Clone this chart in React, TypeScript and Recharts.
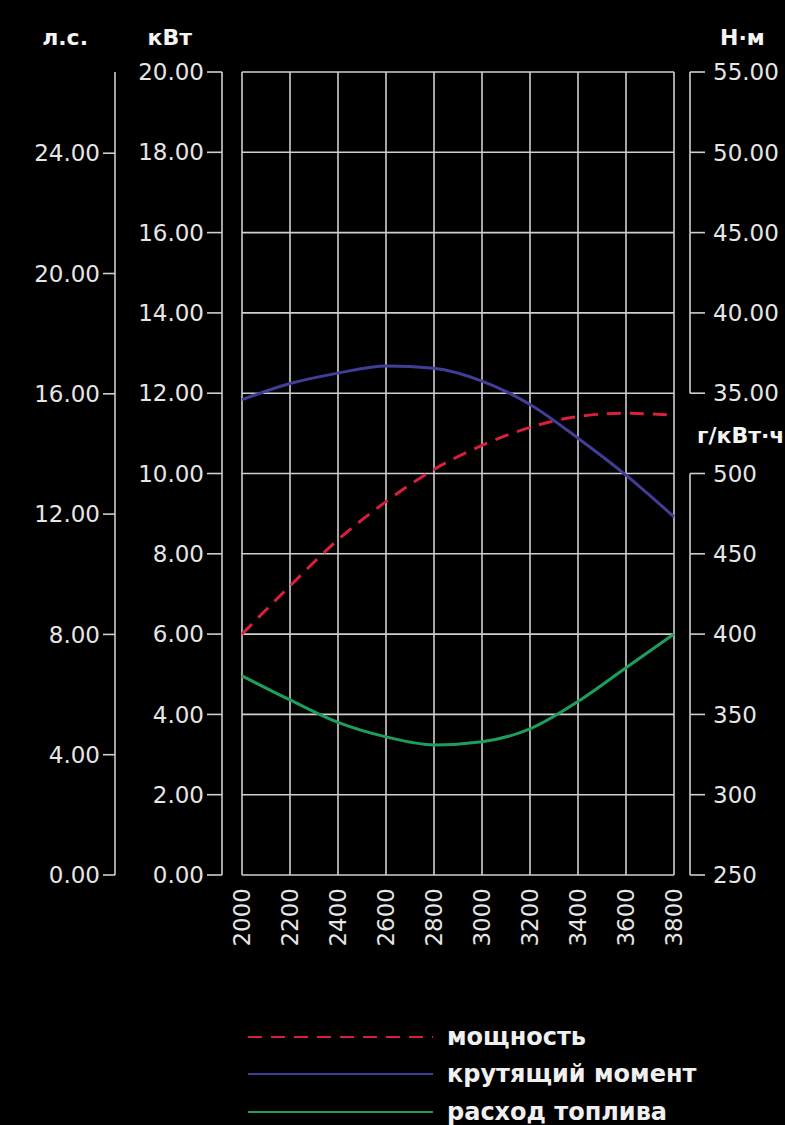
import { LineChart, Line, XAxis, YAxis, CartesianGrid, Legend } from "recharts";

const rpm = [2000, 2200, 2400, 2600, 2800, 3000, 3200, 3400, 3600, 3800];
const powerKw = [6.0, 7.2, 8.35, 9.3, 10.1, 10.7, 11.15, 11.42, 11.5, 11.45];
const torqueNm = [34.6, 35.6, 36.25, 36.7, 36.55, 35.75, 34.3, 32.2, 29.9, 27.3];
const fuelGkwh = [374, 359, 345, 336, 331, 333, 341, 358, 379, 400];

const kwTicks = [0, 2, 4, 6, 8, 10, 12, 14, 16, 18, 20];
const hpTicks = [0, 4, 8, 12, 16, 20, 24];
const nmTicks = [35, 40, 45, 50, 55];
const fuelTicks = [250, 300, 350, 400, 450, 500];

const data = rpm.map((r, i) => ({
  rpm: r,
  power: powerKw[i],
  torque: torqueNm[i],
  fuel: fuelGkwh[i],
}));

const W = 785;
const H = 1125;
const TOP = 72;
const X_AXIS_H = 80;
const BOTTOM_MARGIN = 170;
const PLOT_H = H - TOP - X_AXIS_H - BOTTOM_MARGIN;

const GRID = "#cfcfcf";
const TEXT = "#e6e6e6";
const RT_SIZE = 15;
const RT_MARGIN = 8;

// axis ids are sorted by name when recharts stacks them, so prefix them
const series = [
  { key: "power", name: "мощность", color: "#d81f3d", dash: "14 9", axis: "l2kw" },
  { key: "torque", name: "крутящий момент", color: "#403e96", dash: undefined, axis: "r2nm" },
  { key: "fuel", name: "расход топлива", color: "#1e9e5c", dash: undefined, axis: "r3fuel" },
];

// right axes share one column: draws tick, line piece down to next tick, label and unit title
function RightTick(props: any) {
  const { x, y, payload, ticks, domain, fmt, title, titleDx, titleDy, shift } = props;
  const ax = x - RT_SIZE - RT_MARGIN + shift;
  const step = ticks[1] - ticks[0];
  const seg = (PLOT_H * step) / (domain[1] - domain[0]);
  const min = ticks[0];
  const max = ticks[ticks.length - 1];
  return (
    <g>
      <line x1={ax} x2={ax + RT_SIZE} y1={y} y2={y} stroke={GRID} strokeWidth={1.6} />
      {payload.value > min && (
        <line x1={ax} x2={ax} y1={y} y2={y + seg} stroke={GRID} strokeWidth={1.6} />
      )}
      <text x={ax + RT_SIZE + RT_MARGIN} y={y} dy="0.36em" textAnchor="start" fill={TEXT} fontSize={23}>
        {fmt(payload.value)}
      </text>
      {payload.value === max && (
        <text x={ax + titleDx} y={y + titleDy} fill="#f4f4f4" fontSize={22} fontWeight={700}>
          {title}
        </text>
      )}
    </g>
  );
}

function XTick(props: any) {
  const { x, y, payload } = props;
  return (
    <text
      x={x}
      y={y}
      transform={`rotate(-90 ${x} ${y})`}
      textAnchor="end"
      dominantBaseline="central"
      fill={TEXT}
      fontSize={23}
    >
      {payload.value}
    </text>
  );
}

function renderLegend() {
  return (
    <div style={{ display: "flex", flexDirection: "column" }}>
      {series.map((s) => (
        <div key={s.key} style={{ display: "flex", alignItems: "center", height: 37.5 }}>
          <svg width={195} height={10}>
            <line x1={8} y1={5} x2={193} y2={5} stroke={s.color} strokeWidth={2.2} strokeDasharray={s.dash} />
          </svg>
          <span style={{ marginLeft: 12, fontWeight: 700, fontSize: 24, color: "#f0f0f0", lineHeight: "24px" }}>
            {s.name}
          </span>
        </div>
      ))}
    </div>
  );
}

export default function App() {
  return (
    <div style={{ width: W, height: H, background: "#000", fontFamily: "DejaVu Sans", position: "relative" }}>
      <style>{`body{margin:0;background:#000;}`}</style>
      <LineChart width={W} height={H} data={data} margin={{ top: TOP, right: 0, bottom: BOTTOM_MARGIN, left: 0 }}>
        <CartesianGrid yAxisId="l2kw" stroke={GRID} strokeWidth={1.6} />
        <XAxis
          dataKey="rpm"
          type="number"
          domain={[2000, 3800]}
          ticks={rpm}
          height={X_AXIS_H}
          axisLine={false}
          tickLine={false}
          tickSize={0}
          tickMargin={13}
          tick={<XTick />}
          interval={0}
        />
        <YAxis yAxisId="l1gap" orientation="left" width={20} domain={[0, 20]} type="number" tick={false} axisLine={false} tickLine={false} />
        <YAxis
          yAxisId="l2kw"
          orientation="left"
          width={107}
          type="number"
          domain={[0, 20]}
          ticks={kwTicks}
          interval={0}
          tickFormatter={(v: number) => v.toFixed(2)}
          tick={{ fill: TEXT, fontSize: 23 }}
          tickSize={15}
          tickMargin={3}
          axisLine={{ stroke: GRID, strokeWidth: 1.6 }}
          tickLine={{ stroke: GRID, strokeWidth: 1.6 }}
          label={(p: any) => (
            <text x={p.viewBox.x + p.viewBox.width - 30} y={p.viewBox.y - 27} textAnchor="end" fill="#f4f4f4" fontSize={22} fontWeight={700}>
              кВт
            </text>
          )}
        />
        <YAxis
          yAxisId="l3hp"
          orientation="left"
          width={115}
          type="number"
          domain={[0, 26.7]}
          allowDataOverflow
          ticks={hpTicks}
          interval={0}
          tickFormatter={(v: number) => v.toFixed(2)}
          tick={{ fill: TEXT, fontSize: 23 }}
          tickSize={12}
          tickMargin={3}
          axisLine={{ stroke: GRID, strokeWidth: 1.6 }}
          tickLine={{ stroke: GRID, strokeWidth: 1.6 }}
          label={(p: any) => (
            <text x={p.viewBox.x + p.viewBox.width - 27} y={p.viewBox.y - 27} textAnchor="end" fill="#f4f4f4" fontSize={22} fontWeight={700}>
              л.с.
            </text>
          )}
        />
        <YAxis yAxisId="r1gap" orientation="right" width={16} domain={[0, 20]} type="number" tick={false} axisLine={false} tickLine={false} />
        <YAxis
          yAxisId="r2nm"
          orientation="right"
          width={1}
          type="number"
          domain={[5, 55]}
          allowDataOverflow
          ticks={nmTicks}
          interval={0}
          tickSize={RT_SIZE}
          tickMargin={RT_MARGIN}
          axisLine={false}
          tickLine={false}
          tick={(p: any) => (
            <RightTick {...p} shift={0} ticks={nmTicks} domain={[5, 55]} fmt={(v: number) => v.toFixed(2)} title="Н·м" titleDx={30} titleDy={-27} />
          )}
        />
        <YAxis
          yAxisId="r3fuel"
          orientation="right"
          width={94}
          type="number"
          domain={[250, 750]}
          allowDataOverflow
          ticks={fuelTicks}
          interval={0}
          tickSize={RT_SIZE}
          tickMargin={RT_MARGIN}
          axisLine={false}
          tickLine={false}
          tick={(p: any) => (
            <RightTick {...p} shift={-1} ticks={fuelTicks} domain={[250, 750]} fmt={(v: number) => String(v)} title="г/кВт·ч" titleDx={7} titleDy={-31} />
          )}
        />
        {series.map((s) => (
          <Line
            key={s.key}
            yAxisId={s.axis}
            dataKey={s.key}
            name={s.name}
            type="monotone"
            stroke={s.color}
            strokeWidth={3}
            strokeDasharray={s.dash}
            dot={false}
            activeDot={false}
            isAnimationActive={false}
          />
        ))}
        <Legend
          layout="vertical"
          align="center"
          verticalAlign="middle"
          wrapperStyle={{ top: 1018, left: 240, width: 520, height: 115 }}
          content={renderLegend}
        />
      </LineChart>
    </div>
  );
}
